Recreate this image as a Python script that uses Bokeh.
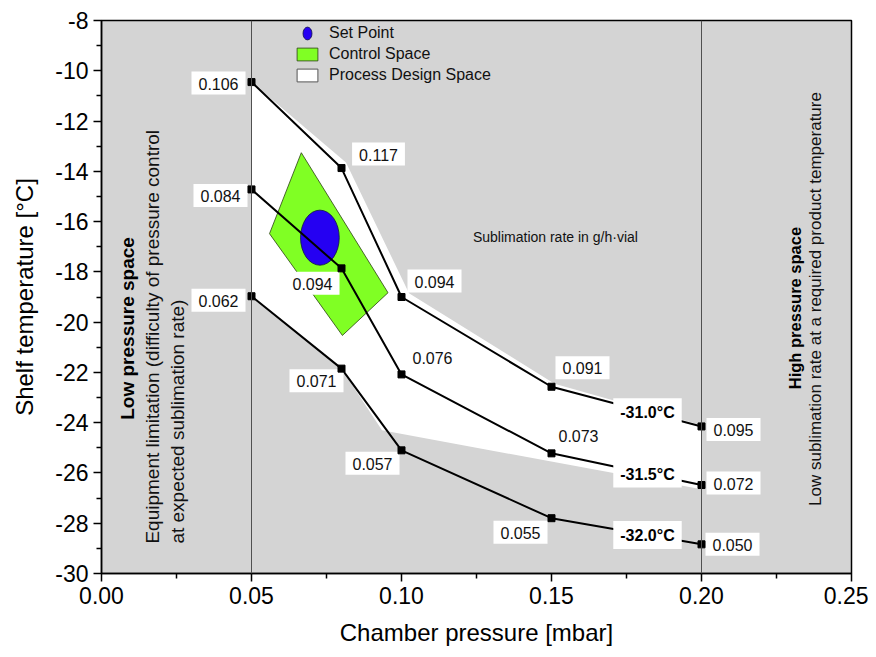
import numpy as np
from bokeh.plotting import figure
from bokeh.models import (Range1d, FixedTicker, NumeralTickFormatter, Legend, LegendItem,
                          ColumnDataSource, Span)
from bokeh.core.properties import value
from bokeh.embed import file_html
from bokeh.resources import INLINE

FONT = "Liberation Sans"

# ---------------- data ----------------
pressure = [0.05, 0.08, 0.10, 0.15, 0.20]
temp_m310 = [-10.45, -13.87, -19.0, -22.57, -24.15]   # shelf temp for product -31.0 °C
temp_m315 = [-14.72, -17.86, -22.08, -25.22, -26.48]  # -31.5 °C
temp_m320 = [-18.97, -21.85, -25.1, -27.8, -28.84]    # -32.0 °C
rate_m310 = ["0.106", "0.117", "0.094", "0.091", "0.095"]
rate_m315 = ["0.084", "0.094", "0.076", "0.073", "0.072"]
rate_m320 = ["0.062", "0.071", "0.057", "0.055", "0.050"]
curve_names = ["-31.0°C", "-31.5°C", "-32.0°C"]

design_x = [0.05, 0.0815, 0.1025, 0.151, 0.20, 0.20, 0.0935, 0.08, 0.05]
design_y = [-10.45, -13.65, -18.85, -22.45, -24.1, -26.65, -24.3, -21.85, -18.97]

control_x = [0.0666, 0.0955, 0.0803, 0.056]
control_y = [-13.26, -18.83, -20.53, -16.48]

setpoint_x = [0.0728]
setpoint_y = [-16.64]
setpoint_w = [0.0129]
setpoint_h = [2.19]

limits_x = [0.05, 0.20]

x_ticks = [0.0, 0.05, 0.10, 0.15, 0.20, 0.25]
y_ticks = list(range(-30, -7, 2))

# ---------------- figure ----------------
p = figure(width=868, height=655, output_backend="svg", toolbar_location=None,
           x_range=Range1d(0, 0.25), y_range=Range1d(-30, -8),
           min_border_left=101, min_border_right=17, min_border_top=20, min_border_bottom=82)
p.background_fill_color = "#d4d4d4"
p.border_fill_color = "white"
p.outline_line_color = "black"
p.outline_line_width = 1.5
p.xgrid.visible = False
p.ygrid.visible = False

p.xaxis.ticker = FixedTicker(ticks=x_ticks, minor_ticks=list(np.arange(0.025, 0.25, 0.05)))
p.yaxis.ticker = FixedTicker(ticks=y_ticks, minor_ticks=list(range(-29, -8, 2)))
p.xaxis.formatter = NumeralTickFormatter(format="0.00")
p.yaxis.formatter = NumeralTickFormatter(format="0")
for ax in (p.xaxis[0], p.yaxis[0]):
    ax.major_tick_in = 0
    ax.major_tick_out = 8
    ax.minor_tick_in = 0
    ax.minor_tick_out = 5
    ax.axis_line_width = 1.5
    ax.major_tick_line_width = 1.5
    ax.minor_tick_line_width = 1.5
    ax.major_label_text_font = FONT
    ax.major_label_text_font_size = "23px"
    ax.major_label_text_color = "black"
    ax.axis_label_text_font = FONT
    ax.axis_label_text_font_size = "24px"
    ax.axis_label_text_font_style = "normal"
    ax.axis_label_text_color = "black"
p.xaxis.axis_label = "Chamber pressure [mbar]"
p.yaxis.axis_label = "Shelf temperature [°C]"
p.xaxis.axis_label_standoff = 12
p.yaxis.axis_label_standoff = 14

# regions
design = p.patch(design_x, design_y, fill_color="white", line_color=None)
control = p.patch(control_x, control_y, fill_color="#80ff24", line_color="#2a4010", line_width=0.8)
setpoint = p.ellipse(x=setpoint_x, y=setpoint_y, width=setpoint_w, height=setpoint_h,
                     fill_color="#2500f2", line_color="#10104a", line_width=0.8)
# legend proxy for the design space (degenerate polygon hidden under a marker)
design_leg = p.patch([design_x[0]] * 3, [design_y[0]] * 3, fill_color="white",
                     line_color="#555555", line_width=1)

for xv in limits_x:
    p.add_layout(Span(location=xv, dimension="height", line_color="#505050", line_width=1))

# curves
temps = [temp_m310, temp_m315, temp_m320]
rates = [rate_m310, rate_m315, rate_m320]
for t in temps:
    p.line(pressure, t, line_color="black", line_width=2)

# rate labels (screen pixel offsets relative to each point, +y is down)
offsets = [
    [(-33, 1), (37, -14), (33, -16), (31, -19), (32, 3)],
    [(-31, 6), (-29, 15), (31, -17), (27, -18), (32, -2)],
    [(-33, 4), (-25, 12), (-29, 13), (-31, 14), (31, 0)],
]
lx, ly, lt, ox, oy = [], [], [], [], []
for t, r, offs in zip(temps, rates, offsets):
    for xi, yi, ri, (dx, dy) in zip(pressure, t, r, offs):
        lx.append(xi); ly.append(yi); lt.append(ri); ox.append(dx); oy.append(dy)
src = ColumnDataSource(dict(x=lx, y=ly, text=lt, xo=ox, yo=oy))
p.text(x="x", y="y", text="text", x_offset="xo", y_offset="yo", source=src,
       text_font=value(FONT), text_font_size="16px", text_color="#111111",
       text_align="center", text_baseline="middle",
       background_fill_color="white", padding=dict(left=7, right=7, top=6, bottom=5))

# temperature curve names on the last segment
nx, ny = [], []
for t in temps:
    xm = 0.182
    nx.append(xm)
    ny.append(float(np.interp(xm, pressure, t)))
p.text(x=nx, y=ny, text=curve_names, text_font=value(FONT), text_font_size="16px",
       text_font_style="bold", text_color="black", text_align="center", text_baseline="middle",
       background_fill_color="white", padding=dict(left=7, right=7, top=6, bottom=5))

# point markers on top of labels
for t in temps:
    p.scatter(pressure, t, marker="square", size=7, fill_color="black", line_color="black")

# annotations
p.text(x=[0.1513], y=[-16.63], text=["Sublimation rate in g/h·vial"], text_font=value(FONT),
       text_font_size="14px", text_color="#111111", text_align="center", text_baseline="middle")
p.text(x=[0.0087], y=[-20.25], text=["Low pressure space"], angle=np.pi / 2,
       text_font=value(FONT), text_font_size="19px", text_font_style="bold", text_color="black",
       text_align="center", text_baseline="middle")
p.text(x=[0.017, 0.0253], y=[-28.81, -28.81],
       text=["Equipment limitation (difficulty of pressure control", "at expected sublimation rate)"],
       angle=np.pi / 2, text_font=value(FONT), text_font_size="19px", text_color="#111111",
       text_align="left", text_baseline="middle")
p.text(x=[0.2313], y=[-19.44], text=["High pressure space"], angle=np.pi / 2,
       text_font=value(FONT), text_font_size="16.5px", text_font_style="bold", text_color="black",
       text_align="center", text_baseline="middle")
p.text(x=[0.238], y=[-19.08], text=["Low sublimation rate at a required product temperature"],
       angle=np.pi / 2, text_font=value(FONT), text_font_size="17px", text_color="#111111",
       text_align="center", text_baseline="middle")

legend = Legend(items=[LegendItem(label="Set Point", renderers=[setpoint]),
                       LegendItem(label="Control Space", renderers=[control]),
                       LegendItem(label="Process Design Space", renderers=[design_leg])],
                location=(193, 489), orientation="vertical",
                background_fill_alpha=0, border_line_color=None,
                glyph_width=26, glyph_height=16, label_height=16, spacing=3,
                padding=0, margin=0, label_standoff=9,
                label_text_font=FONT, label_text_font_size="16px", label_text_color="#111111")
p.add_layout(legend, "center")

open("out.html", "w").write(file_html(p, INLINE))
